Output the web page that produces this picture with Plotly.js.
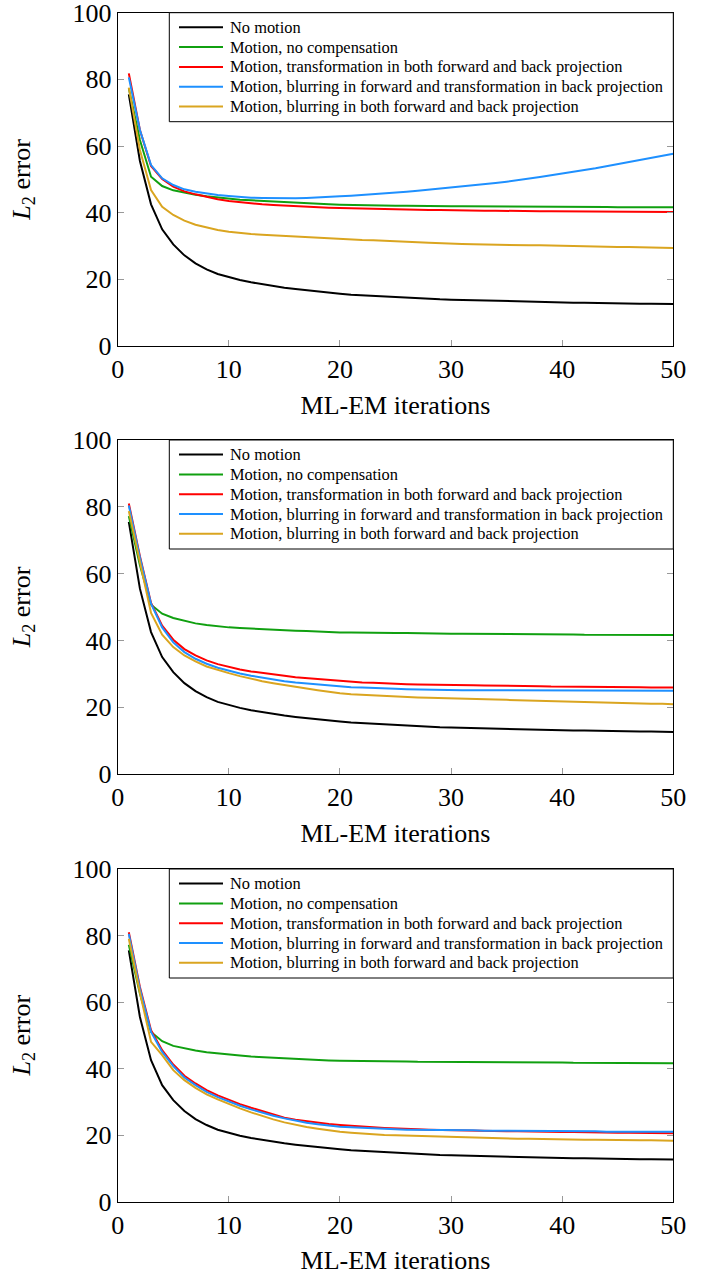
<!DOCTYPE html>
<html>
<head>
<meta charset="utf-8">
<script src="https://cdn.plot.ly/plotly-3.0.1.min.js"></script>
<style>html,body{margin:0;padding:0;background:#fff;}#chart{width:710px;height:1277px;}</style>
</head>
<body>
<div id="chart"></div>
<script>
// ML-EM iteration numbers
const iterations = [1,2,3,4,5,6,7,8,9,10,11,12,13,14,15,16,17,18,19,20,21,22,23,24,25,26,27,28,29,30,31,32,33,34,35,36,37,38,39,40,41,42,43,44,45,46,47,48,49,50];

const seriesNames = [
  "No motion",
  "Motion, no compensation",
  "Motion, transformation in both forward and back projection",
  "Motion, blurring in forward and transformation in back projection",
  "Motion, blurring in both forward and back projection"
];

const xTicks = [0, 10, 20, 30, 40, 50];
const yTicks = [0, 20, 40, 60, 80, 100];

// "No motion" reference curve (same in every panel)
const noMotion = [75.5,55.5,42.5,35.0,30.5,27.2,24.8,23.0,21.6,20.6,19.8,19.1,18.5,18.0,17.5,17.1,16.7,16.3,16.0,15.7,15.4,15.2,15.0,14.8,14.6,14.4,14.3,14.1,14.0,13.9,13.8,13.7,13.6,13.5,13.4,13.3,13.3,13.2,13.1,13.1,13.0,13.0,12.9,12.9,12.8,12.8,12.7,12.7,12.6,12.6];

// Panel 1
const p1NoComp = [77.3,61.8,50.8,48.0,46.7,46.0,45.4,44.9,44.5,44.2,43.9,43.7,43.5,43.3,43.1,42.9,42.8,42.6,42.5,42.4,42.3,42.3,42.2,42.2,42.1,42.1,42.0,42.0,42.0,41.9,41.9,41.9,41.8,41.8,41.8,41.8,41.8,41.7,41.7,41.7,41.7,41.7,41.7,41.7,41.6,41.6,41.6,41.6,41.6,41.6];
const p1Transf = [81.8,64.8,54.0,50.1,47.8,46.4,45.5,44.7,44.0,43.5,43.1,42.8,42.5,42.3,42.1,41.9,41.8,41.6,41.5,41.4,41.3,41.2,41.1,41.0,41.0,40.9,40.9,40.8,40.8,40.7,40.7,40.6,40.6,40.6,40.5,40.5,40.5,40.4,40.4,40.4,40.4,40.3,40.3,40.3,40.3,40.3,40.2,40.2,40.2,40.2];
const p1BlurFwd = [80.6,64.8,54.3,50.3,48.3,47.0,46.3,45.7,45.3,45.0,44.7,44.5,44.4,44.3,44.3,44.3,44.4,44.5,44.7,44.9,45.1,45.3,45.5,45.8,46.0,46.3,46.6,46.9,47.2,47.5,47.8,48.2,48.5,48.9,49.3,49.7,50.2,50.7,51.2,51.8,52.3,52.8,53.3,53.9,54.5,55.1,55.7,56.4,57.0,57.7];
const p1BlurBoth = [77.5,58.8,46.8,41.8,39.3,37.6,36.4,35.5,34.8,34.3,33.9,33.6,33.4,33.2,33.0,32.9,32.7,32.5,32.3,32.1,32.0,31.8,31.7,31.5,31.4,31.2,31.1,31.0,30.8,30.7,30.6,30.5,30.4,30.4,30.3,30.3,30.2,30.2,30.1,30.1,30.0,30.0,29.9,29.8,29.7,29.7,29.6,29.5,29.5,29.4];

// Panel 2
const p2NoComp = [77.2,62.5,50.7,48.0,46.7,45.8,45.1,44.6,44.2,43.9,43.7,43.5,43.3,43.1,43.0,42.9,42.8,42.6,42.5,42.4,42.4,42.3,42.3,42.2,42.2,42.2,42.1,42.1,42.0,42.0,42.0,42.0,41.9,41.9,41.9,41.9,41.8,41.8,41.8,41.8,41.8,41.7,41.7,41.7,41.7,41.7,41.6,41.6,41.6,41.6];
const p2Transf = [81.0,65.2,51.2,44.4,40.2,37.4,35.5,34.0,32.9,32.0,31.3,30.7,30.2,29.8,29.4,29.0,28.7,28.4,28.1,27.8,27.6,27.4,27.3,27.1,27.0,26.9,26.8,26.8,26.7,26.7,26.6,26.6,26.5,26.5,26.4,26.4,26.3,26.3,26.2,26.2,26.2,26.1,26.1,26.1,26.0,26.0,26.0,25.9,25.9,25.9];
const p2BlurFwd = [80.4,64.8,51.0,43.9,39.4,36.5,34.5,33.0,31.8,30.9,30.1,29.4,28.8,28.3,27.8,27.4,27.1,26.8,26.5,26.2,26.0,25.9,25.7,25.6,25.5,25.4,25.3,25.3,25.2,25.2,25.1,25.1,25.1,25.1,25.0,25.0,25.0,25.0,25.0,25.0,25.0,24.9,24.9,24.9,24.9,24.9,24.9,24.9,24.9,24.9];
const p2BlurBoth = [78.7,63.0,48.2,41.7,38.0,35.5,33.7,32.2,31.1,30.2,29.3,28.5,27.8,27.2,26.6,26.1,25.6,25.1,24.6,24.2,23.9,23.7,23.5,23.3,23.1,23.0,22.9,22.8,22.75,22.7,22.6,22.5,22.4,22.3,22.2,22.1,22.0,21.9,21.8,21.7,21.6,21.5,21.4,21.4,21.3,21.2,21.1,21.0,21.0,20.9];

// Panel 3
const p3NoComp = [77.2,62.5,51.0,48.2,46.8,46.0,45.4,44.9,44.5,44.2,43.9,43.6,43.4,43.2,43.0,42.8,42.7,42.6,42.4,42.3,42.3,42.2,42.2,42.1,42.1,42.1,42.0,42.0,42.0,41.9,41.9,41.9,41.9,41.9,41.8,41.8,41.8,41.8,41.8,41.8,41.7,41.7,41.7,41.7,41.7,41.6,41.6,41.6,41.6,41.6];
const p3Transf = [81.0,64.5,51.5,45.5,41.2,37.8,35.5,33.5,31.9,30.5,29.3,28.2,27.2,26.3,25.2,24.6,24.1,23.7,23.3,23.0,22.7,22.5,22.3,22.1,21.9,21.8,21.7,21.6,21.5,21.4,21.3,21.3,21.2,21.2,21.1,21.1,21.0,21.0,20.9,20.9,20.9,20.8,20.8,20.7,20.7,20.7,20.6,20.6,20.6,20.5];
const p3BlurFwd = [80.5,64.0,51.0,45.0,40.7,37.3,35.0,33.0,31.4,30.0,28.8,27.7,26.7,25.8,25.0,24.3,23.7,23.2,22.8,22.5,22.3,22.1,21.9,21.8,21.7,21.6,21.6,21.5,21.5,21.5,21.4,21.4,21.3,21.3,21.3,21.2,21.2,21.2,21.1,21.1,21.1,21.1,21.1,21.0,21.0,21.0,21.0,21.0,21.0,21.0];
const p3BlurBoth = [79.0,62.8,48.0,44.0,39.5,36.5,34.2,32.2,30.7,29.3,28.0,26.8,25.7,24.7,23.8,23.0,22.4,21.9,21.4,21.0,20.7,20.4,20.2,20.0,19.9,19.8,19.7,19.6,19.5,19.5,19.4,19.3,19.2,19.1,19.0,18.9,18.9,18.8,18.8,18.7,18.7,18.6,18.6,18.5,18.5,18.4,18.4,18.4,18.3,18.3];

const panels = [
  [noMotion, p1NoComp, p1Transf, p1BlurFwd, p1BlurBoth],
  [noMotion, p2NoComp, p2Transf, p2BlurFwd, p2BlurBoth],
  [noMotion, p3NoComp, p3Transf, p3BlurFwd, p3BlurBoth]
];

const colors = ["#000000", "#10a010", "#ff0000", "#1e90ff", "#daa520"];
const serif = "'Liberation Serif', 'Times New Roman', Times, serif";
const W = 710, H = 1277;
const xL = 117.7, xR = 673.3;
const xDomain = [xL / W, xR / W];
const pxBox = [[12.7, 346], [440, 774], [869, 1201.5]];

const traces = [];
panels.forEach((series, k) => {
  const sfx = k === 0 ? "" : String(k + 1);
  series.forEach((vals, i) => {
    traces.push({
      x: iterations, y: vals, type: "scatter", mode: "lines",
      name: seriesNames[i], showlegend: false,
      line: {color: colors[i], width: 2},
      xaxis: "x" + sfx, yaxis: "y" + sfx
    });
  });
});

const shapes = [];
const annotations = [];
const layout = {
  width: W, height: H,
  margin: {l: 0, r: 0, t: 0, b: 0},
  paper_bgcolor: "#fff", plot_bgcolor: "#fff",
  font: {family: serif, color: "#000", size: 26},
  showlegend: false,
  shapes: shapes, annotations: annotations
};

const px = v => v / W;
const py = v => (H - v) / H;

pxBox.forEach((b, k) => {
  const sfx = k === 0 ? "" : String(k + 1);
  const yd = [py(b[1]), py(b[0])];
  layout["xaxis" + sfx] = {
    domain: xDomain, anchor: "y" + sfx, range: [0, 50],
    tickvals: xTicks, ticklabeloverflow: "allow",
    ticks: "inside", ticklen: 6, tickcolor: "#999", tickwidth: 1,
    showline: true, linecolor: "#000", linewidth: 1, mirror: "ticks",
    showgrid: false, zeroline: false,
    tickfont: {family: serif, size: 26},
    title: {text: "ML-EM iterations", font: {family: serif, size: 26}, standoff: 12}
  };
  layout["yaxis" + sfx] = {
    domain: yd, anchor: "x" + sfx, range: [0, 100],
    tickvals: yTicks, ticklabeloverflow: "allow",
    ticks: "inside", ticklen: 6, tickcolor: "#999", tickwidth: 1,
    showline: true, linecolor: "#000", linewidth: 1, mirror: "ticks",
    showgrid: false, zeroline: false,
    tickfont: {family: serif, size: 26},
    title: {text: "<i>L</i><sub>2</sub> error", font: {family: serif, size: 26}, standoff: 34}
  };

  // legend box (drawn as in the reference: top-right, inside the axes)
  const top = b[0], bottom = b[0] + 109;
  shapes.push({
    type: "rect", xref: "paper", yref: "paper", layer: "above",
    x0: px(169.3), x1: px(xR), y0: py(bottom), y1: py(top),
    line: {color: "#000", width: 1}, fillcolor: "#fff"
  });
  seriesNames.forEach((name, i) => {
    const yc = top + 14.6 + i * 19.8;
    shapes.push({
      type: "line", xref: "paper", yref: "paper", layer: "above",
      x0: px(179), x1: px(223), y0: py(yc), y1: py(yc),
      line: {color: colors[i], width: 2}
    });
    annotations.push({
      text: name, xref: "paper", yref: "paper",
      x: px(227.5), y: py(yc), xanchor: "left", yanchor: "middle",
      showarrow: false, font: {family: serif, size: 16.4, color: "#000"}
    });
  });
});

Plotly.newPlot("chart", traces, layout, {displayModeBar: false, staticPlot: true});
</script>
</body>
</html>
